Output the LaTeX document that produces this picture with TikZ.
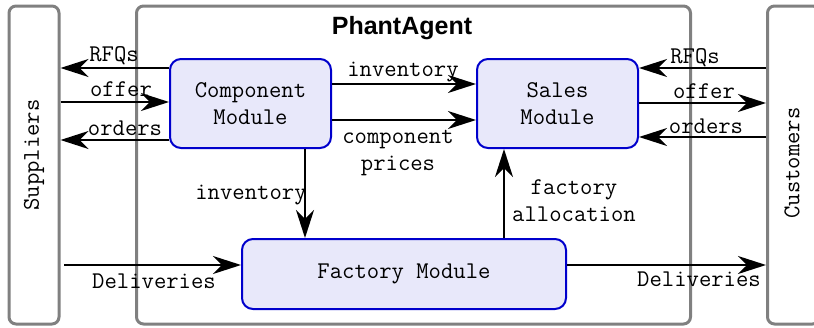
\documentclass[tikz,border=0pt]{standalone}
\usepackage{fontspec}
\setmainfont{Liberation Sans}
\usetikzlibrary{arrows.meta}
\definecolor{framegray}{HTML}{808080}
\definecolor{modblue}{HTML}{0000CC}
\definecolor{modfill}{HTML}{E8E8FA}
\begin{document}
\begin{tikzpicture}[x=1pt,y=-1pt,
  lbl/.style={font=\fontsize{24}{27}\selectfont\ttfamily, inner sep=0pt, align=center},
  module/.style={lbl, draw=modblue, fill=modfill, line width=2pt, rounded corners=11pt},
  party/.style={draw=framegray, line width=3pt, rounded corners=7pt, inner sep=0pt},
  arr/.style={line width=2pt, -{Stealth[length=28pt,width=18pt,inset=9pt]}}]
\useasboundingbox (0,0) rectangle (814,327);

% outer frames: suppliers, the agent, customers
\node[party, minimum width=50, minimum height=318] (sup) at (34,165) {};
\node[party, minimum width=554, minimum height=318] (agent) at (413.5,165) {};
\node[party, minimum width=52, minimum height=318] (cus) at (793.5,165) {};
\node[lbl, rotate=90] (suptxt) at (34,155) {Suppliers};
\node[lbl, rotate=90] (custxt) at (792,163) {Customers};
\node[font=\fontsize{25}{30}\selectfont\bfseries, inner sep=0pt] (title) at (402,28) {PhantAgent};

% modules
\node[module, minimum width=161, minimum height=89] (comp) at (250.5,103.5) {Component\\Module};
\node[module, minimum width=161, minimum height=89] (sales) at (557.5,103.5) {Sales\\Module};
\node[module, minimum width=324, minimum height=70] (fac) at (404,274) {Factory Module};

% supplier side
\draw[arr] (comp.west |- 0,68) -- (sup.east |- 0,68);
\draw[arr] (sup.east |- 0,102) -- (comp.west |- 0,102);
\draw[arr] (comp.west |- 0,140) -- (sup.east |- 0,140);
\node[lbl] (lrfq) at (114,56) {RFQs};
\node[lbl] (loffer) at (121,89) {offer};
\node[lbl] (lorders) at (125,128) {orders};

% inside the agent
\draw[arr] (comp.east |- 0,84) -- (sales.west |- 0,84);
\draw[arr] (comp.east |- 0,120) -- (sales.west |- 0,120);
\draw[arr] (comp.south -| 305,0) -- (fac.north -| 305,0);
\draw[arr] (fac.north -| 504,0) -- (sales.south -| 504,0);
\node[lbl] (linv) at (403,72) {inventory};
\node[lbl] (lprices) at (398,153) {component\\prices};
\node[lbl] (linvdown) at (251,195) {inventory};
\node[lbl] (lalloc) at (574,201) {factory\\allocation};

% deliveries
\coordinate (dstart) at (64,265);
\draw[arr] (dstart) -- (fac.west |- dstart);
\draw[arr] (fac.east |- dstart) -- (cus.west |- dstart);
\node[lbl] (ldelin) at (154,281) {Deliveries};
\node[lbl] (ldelout) at (699,279) {Deliveries};

% customer side
\draw[arr] (cus.west |- 0,68) -- (sales.east |- 0,68);
\draw[arr] (sales.east |- 0,103) -- (cus.west |- 0,103);
\draw[arr] (cus.west |- 0,137) -- (sales.east |- 0,137);
\node[lbl] (rrfq) at (695,58) {RFQs};
\node[lbl] (roffer) at (704,91) {offer};
\node[lbl] (rorders) at (706,126) {orders};
\end{tikzpicture}
\end{document}
